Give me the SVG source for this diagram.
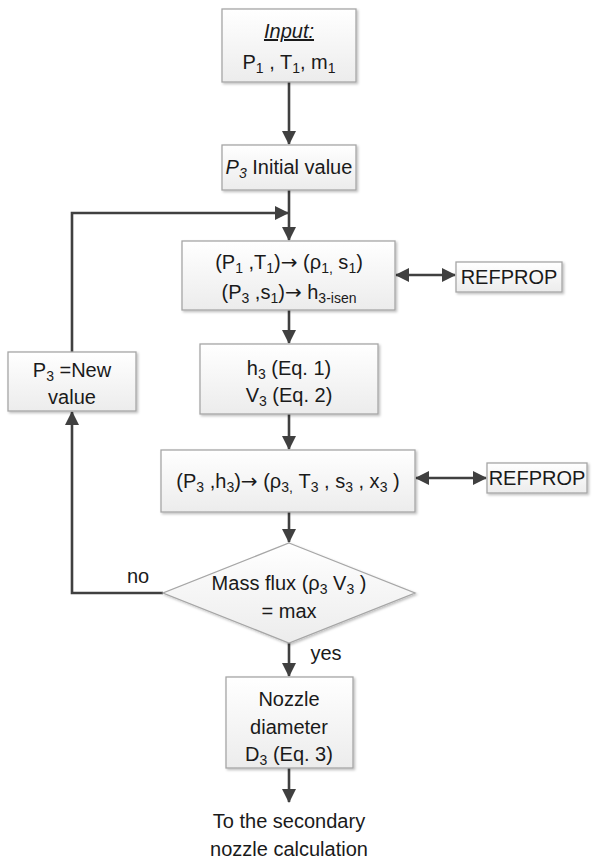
<svg xmlns="http://www.w3.org/2000/svg" width="595" height="863" viewBox="0 0 595 863">
<style>
.box{fill:url(#g);stroke:#a6a6a6;stroke-width:1.3;filter:url(#sh)}
.t{font-family:"Liberation Sans",Arial,sans-serif;font-size:20px;fill:#1a1a1a;text-anchor:middle}
.s{font-size:14px}
.ar{font-family:"DejaVu Sans",sans-serif}
.ln{fill:none;stroke:#404040;stroke-width:2.6}
</style>
<defs>
<linearGradient id="g" x1="0" y1="0" x2="0" y2="1"><stop offset="0" stop-color="#ffffff"/><stop offset="1" stop-color="#ececec"/></linearGradient>
<filter id="sh" x="-10%" y="-10%" width="130%" height="130%"><feDropShadow dx="1.5" dy="1.5" stdDeviation="1" flood-color="#000" flood-opacity="0.25"/></filter>
<marker id="a" markerUnits="userSpaceOnUse" markerWidth="14" markerHeight="14" refX="13" refY="7" orient="auto"><path d="M0,0 L14,7 L0,14 Z" fill="#404040"/></marker>
<marker id="b" markerUnits="userSpaceOnUse" markerWidth="14" markerHeight="14" refX="1" refY="7" orient="auto"><path d="M14,0 L0,7 L14,14 Z" fill="#404040"/></marker>
</defs>
<g id="connectors">
<path class="ln" d="M289,82 V144" marker-end="url(#a)"/>
<path class="ln" d="M289,190 V240" marker-end="url(#a)"/>
<path class="ln" d="M72,352 V213 H288" marker-end="url(#a)"/>
<path class="ln" d="M396,275 H455" marker-start="url(#b)" marker-end="url(#a)"/>
<path class="ln" d="M289,310 V343" marker-end="url(#a)"/>
<path class="ln" d="M289,414 V449" marker-end="url(#a)"/>
<path class="ln" d="M416,478 H486" marker-start="url(#b)" marker-end="url(#a)"/>
<path class="ln" d="M289,512 V542" marker-end="url(#a)"/>
<path class="ln" d="M163,593 H72 V412" marker-end="url(#a)"/>
<path class="ln" d="M289,643 V676" marker-end="url(#a)"/>
<path class="ln" d="M289,768 V802" marker-end="url(#a)"/>
</g>
<g id="input">
<rect class="box" x="222" y="9" width="134" height="73"/>
<text class="t" x="289" y="38" font-style="italic" text-decoration="underline">Input:</text>
<text class="t" x="289" y="69">P<tspan class="s" dy="4">1</tspan><tspan dy="-4"> , T</tspan><tspan class="s" dy="4">1</tspan><tspan dy="-4">, m</tspan><tspan class="s" dy="4">1</tspan></text>
</g>
<g id="p3init">
<rect class="box" x="222" y="145" width="134" height="45"/>
<text class="t" x="289" y="174"><tspan font-style="italic">P</tspan><tspan class="s" font-style="italic" dy="4">3</tspan><tspan dy="-4">  Initial value</tspan></text>
</g>
<g id="state1">
<rect class="box" x="182" y="241" width="213" height="69"/>
<text class="t" x="289" y="269">(P<tspan class="s" dy="4">1</tspan><tspan dy="-4"> ,T</tspan><tspan class="s" dy="4">1</tspan><tspan dy="-4">)</tspan><tspan class="ar">→</tspan><tspan> (ρ</tspan><tspan class="s" dy="4">1,</tspan><tspan dy="-4"> s</tspan><tspan class="s" dy="4">1</tspan><tspan dy="-4">)</tspan></text>
<text class="t" x="289" y="299">(P<tspan class="s" dy="4">3</tspan><tspan dy="-4"> ,s</tspan><tspan class="s" dy="4">1</tspan><tspan dy="-4">)</tspan><tspan class="ar">→</tspan><tspan> h</tspan><tspan class="s" dy="4">3-isen</tspan></text>
</g>
<g id="refprop1">
<rect class="box" x="456" y="262" width="106" height="30"/>
<text class="t" x="509" y="284">REFPROP</text>
</g>
<g id="h3v3">
<rect class="box" x="200" y="344" width="178" height="70"/>
<text class="t" x="289" y="375">h<tspan class="s" dy="4">3</tspan><tspan dy="-4"> (Eq. 1)</tspan></text>
<text class="t" x="289" y="402">V<tspan class="s" dy="4">3</tspan><tspan dy="-4"> (Eq. 2)</tspan></text>
</g>
<g id="newvalue">
<rect class="box" x="8" y="352" width="128" height="59"/>
<text class="t" x="72" y="377">P<tspan class="s" dy="4">3</tspan><tspan dy="-4"> =New</tspan></text>
<text class="t" x="72" y="404">value</text>
</g>
<g id="state3">
<rect class="box" x="161" y="450" width="254" height="62"/>
<text class="t" x="288" y="488">(P<tspan class="s" dy="4">3</tspan><tspan dy="-4"> ,h</tspan><tspan class="s" dy="4">3</tspan><tspan dy="-4">)</tspan><tspan class="ar">→</tspan><tspan> (ρ</tspan><tspan class="s" dy="4">3,</tspan><tspan dy="-4"> T</tspan><tspan class="s" dy="4">3</tspan><tspan dy="-4"> , s</tspan><tspan class="s" dy="4">3</tspan><tspan dy="-4"> , x</tspan><tspan class="s" dy="4">3</tspan><tspan dy="-4"> )</tspan></text>
</g>
<g id="refprop2">
<rect class="box" x="487" y="463" width="100" height="30"/>
<text class="t" x="537" y="485">REFPROP</text>
</g>
<g id="decision">
<path class="box" d="M289,543 L415,593 L289,643 L163,593 Z"/>
<text class="t" x="289" y="590">Mass flux (ρ<tspan class="s" dy="4">3</tspan><tspan dy="-4"> V</tspan><tspan class="s" dy="4">3</tspan><tspan dy="-4"> )</tspan></text>
<text class="t" x="289" y="618">= max</text>
</g>
<g id="labels">
<text class="t" x="138" y="583">no</text>
<text class="t" x="326" y="660">yes</text>
</g>
<g id="nozzle">
<rect class="box" x="226" y="677" width="127" height="91"/>
<text class="t" x="289" y="706">Nozzle</text>
<text class="t" x="289" y="734">diameter</text>
<text class="t" x="289" y="761">D<tspan class="s" dy="4">3</tspan><tspan dy="-4"> (Eq. 3)</tspan></text>
</g>
<g id="next">
<text class="t" x="289" y="828">To the secondary</text>
<text class="t" x="289" y="856">nozzle calculation</text>
</g>
</svg>
